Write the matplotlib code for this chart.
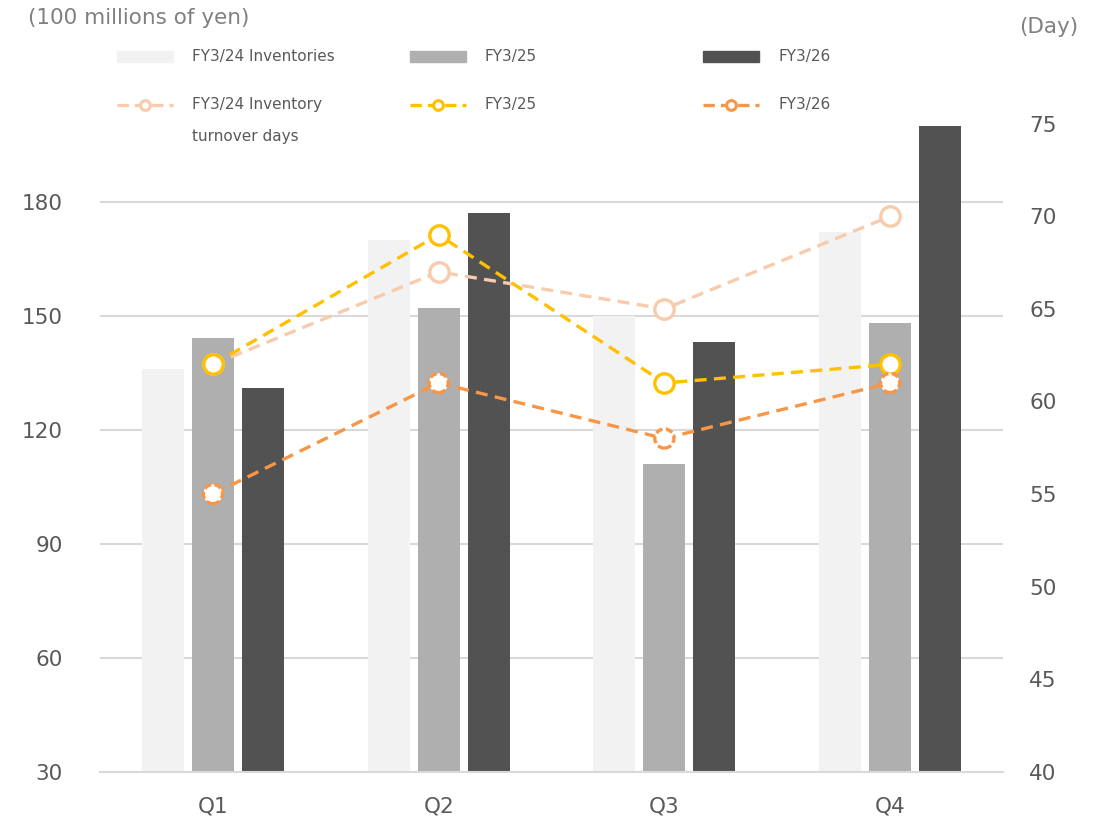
import numpy as np
import matplotlib
matplotlib.use("Agg")
import matplotlib.pyplot as plt
from matplotlib.lines import Line2D
from matplotlib.patches import Rectangle

# Data
quarters = ["Q1", "Q2", "Q3", "Q4"]
inv_fy24 = [136, 170, 150, 172]
inv_fy25 = [144, 152, 111, 148]
inv_fy26 = [131, 177, 143, 200]
days_fy24 = [62, 67, 65, 70]
days_fy25 = [62, 69, 61, 62]
days_fy26 = [55, 61, 58, 61]

left_ticks = [30, 60, 90, 120, 150, 180]
right_ticks = [40, 45, 50, 55, 60, 65, 70, 75]

bar_colors = ["#F2F2F2", "#AFAFAF", "#525252"]
line_colors = ["#F8CBAD", "#FFC000", "#F79646"]
text_color = "#595959"

fig = plt.figure(figsize=(11.04, 8.25), dpi=100)
ax = fig.add_axes([0.0906, 0.0645, 0.8179, 0.7855])
ax2 = ax.twinx()

x = np.arange(len(quarters))
w = 0.186
off = 0.2215
for i, (vals, col) in enumerate(zip([inv_fy24, inv_fy25, inv_fy26], bar_colors)):
    ax.bar(x + (i - 1) * off, np.array(vals) - 30, width=w, bottom=30, color=col,
           zorder=2)

ax.set_xlim(-0.5, 3.5)
ax.set_ylim(30, 200.5)
ax.set_yticks(left_ticks)
ax.set_xticks(x)
ax.set_xticklabels(quarters)
ax.grid(axis="y", color="#D9D9D9", linewidth=1.5, zorder=1)
ax.set_axisbelow(True)
for s in ax.spines.values():
    s.set_visible(False)
ax.spines["bottom"].set_visible(True)
ax.spines["bottom"].set_color("#D9D9D9")
ax.spines["bottom"].set_linewidth(1.5)
ax.tick_params(axis="both", length=0, labelsize=15.5, colors=text_color)
ax.tick_params(axis="y", pad=27)
ax.tick_params(axis="x", pad=18)

dash = (0, (3.6, 2.2))
for vals, col in zip([days_fy24, days_fy25], line_colors[:2]):
    ax2.plot(x, vals, color=col, linewidth=2.4, linestyle=dash, marker="o",
             markersize=14, markerfacecolor="white", markeredgecolor=col,
             markeredgewidth=2.4, zorder=3)
ax2.plot(x, days_fy26, color=line_colors[2], linewidth=2.4, linestyle=dash, zorder=3)
ax2.scatter(x, days_fy26, s=190, facecolor="white", edgecolor=line_colors[2],
            linewidths=2.4, linestyle=(0, (2.2, 1.0)), zorder=4)

ax2.set_ylim(40, 75)
ax2.set_yticks(right_ticks)
for s in ax2.spines.values():
    s.set_visible(False)
ax2.tick_params(axis="y", length=0, labelsize=15.5, colors=text_color, pad=19)
ax2.set_zorder(ax.get_zorder() + 1)
ax2.patch.set_visible(False)

# axis unit labels
fig.text(0.025, 0.978, "(100 millions of yen)", fontsize=15.5, color="#808080",
         ha="left", va="center")
fig.text(0.977, 0.967, "(Day)", fontsize=15.5, color="#808080", ha="right", va="center")

# legend drawn by hand to match layout
H, W = 825, 1104
def fx(px):
    return px / W
def fy(py):
    return 1 - py / H

bar_labels = ["FY3/24 Inventories", "FY3/25", "FY3/26"]
line_labels = ["FY3/24 Inventory", "FY3/25", "FY3/26"]
key_x = [117, 410, 703]
for kx, col, lab in zip(key_x, bar_colors, bar_labels):
    fig.patches.append(Rectangle((fx(kx), fy(62)), fx(56), 11 / H, color=col,
                                 transform=fig.transFigure, figure=fig))
    fig.text(fx(kx + 75), fy(56), lab, fontsize=11, color=text_color,
             ha="left", va="center")
for kx, col, lab in zip(key_x, line_colors, line_labels):
    fig.lines.append(Line2D([fx(kx), fx(kx + 56)], [fy(105), fy(105)], color=col,
                            linewidth=2.4, linestyle=(0, (3.4, 1.8)),
                            transform=fig.transFigure, figure=fig))
    fig.lines.append(Line2D([fx(kx + 28)], [fy(105)], color=col, marker="o",
                            markersize=7, markerfacecolor="white",
                            markeredgewidth=2.2, markeredgecolor=col,
                            transform=fig.transFigure, figure=fig))
    fig.text(fx(kx + 75), fy(105), lab, fontsize=11, color=text_color,
             ha="left", va="center")
fig.text(fx(192), fy(136), "turnover days", fontsize=11, color=text_color,
         ha="left", va="center")

fig.savefig("out.png", dpi=100)
